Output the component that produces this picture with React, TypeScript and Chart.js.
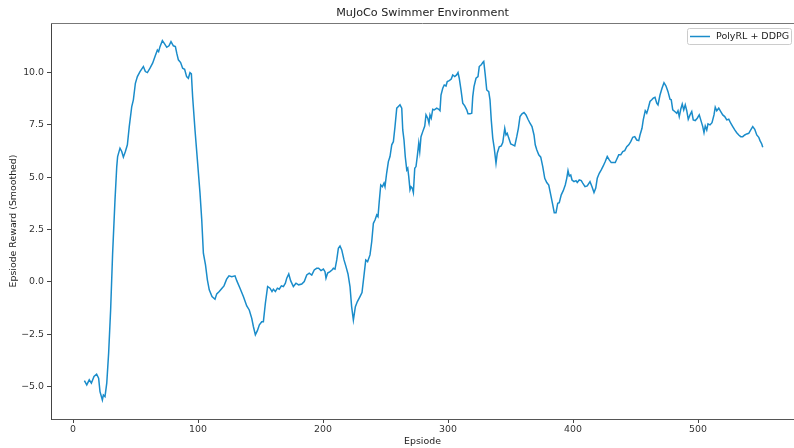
import React, { useEffect, useRef } from "react";
import { Chart, registerables } from "chart.js";

Chart.register(...registerables);

const TITLE = "MuJoCo Swimmer Environment";
const X_LABEL = "Epsiode";
const Y_LABEL = "Epsiode Reward (Smoothed)";
const SERIES_LABEL = "PolyRL + DDPG";
const LINE_COLOR = "#1a8cca";

const xTicks = [0, 100, 200, 300, 400, 500];
const yTicks = [-5.0, -2.5, 0.0, 2.5, 5.0, 7.5, 10.0];

const episodes = [
  9.1, 11, 13, 14.7, 16.8, 18.9, 20.5, 21.6, 23.5, 24.3, 25.6, 27, 28.5, 30.1, 31.7, 33.6, 35, 35.7, 37.6, 39,
  40.3, 41.9, 43.5, 45, 47, 48.3, 49.9, 51.5, 53.6, 56.3, 57.9, 59.5, 61.6, 63.7, 65.6, 67.5, 68.5, 69.6, 71.5, 73.3,
  75, 76.8, 78.4, 80.3, 81.9, 83, 84.3, 86.1, 87.7, 89.3, 90.9, 92.3, 93.6, 94.7, 95.7, 97.6, 99.5, 101.6, 103, 104.3,
  106, 107.5, 109, 111.2, 113.6, 115, 117, 119.2, 120.8, 122.9, 124.8, 127, 129.6, 131, 133.6, 136.3, 139, 141,
  143, 144.3, 145.9, 147.5, 149.1, 151, 152.3, 153.9, 155.7, 157.6, 159.2, 160.3, 161.9, 163.5, 165, 166.7, 168.3,
  169.9, 171, 172.6, 174.1, 176.3, 178.4, 180.5, 183, 185, 187, 189, 191, 193, 194.9, 196.5, 198.4, 200.3, 201.6,
  202.4, 203.7, 205.6, 207.2, 208.3, 209.6, 211, 212.3, 213.6, 215, 216.8, 218.4, 220, 221.6, 222.9, 224.3, 225.9,
  227.5, 229.6, 231.2, 233, 234.2, 235.7, 237.6, 239, 240.3, 241.6, 243, 244, 245, 246.2, 247.5, 248.8, 249.6,
  250.9, 252.3, 253.6, 255, 256.3, 257.6, 259,
  260.3, 261.6, 263, 263.8, 264.8, 265.8, 267, 267.8, 268.6, 269.6, 270.4, 271.4, 272.3, 273.4, 274.4, 275.4,
  276.6, 277.4, 278.4, 279.8, 281.4, 282.4, 283.8, 284.8, 285.6, 286.6, 287.8, 289, 291, 292.6, 293.6, 294.4,
  295.8, 297, 298.4, 299.4, 301, 302.6, 303.8, 305.4, 306.9, 308, 309, 310.4, 311.8, 313.4, 315, 316, 317.6, 319,
  319.8, 320.8, 322.4, 324, 325, 326.6, 327.8, 328.6, 329.8, 331, 332.6, 333.6, 334.6, 335.8, 337, 338.4, 339.4,
  341, 342.6, 343.8, 345.4, 346.4, 347.4, 348.6, 350.2, 351.8, 353.4, 355, 356.3, 357.6, 359.2, 360.8, 362.4, 364,
  365.6, 367.2, 368.8, 369.8, 371, 372.6, 374.2, 375.8, 377.4, 379, 380.6, 382.2, 383.8, 385, 386.4, 387.8, 389,
  390.6, 392.2, 393.8, 395, 396, 397, 398.2, 399.2, 400.8, 402.4, 403.4, 405, 406.6,
  407.8, 409.6, 411.4, 413.6, 415.2, 416.8, 418.2, 419.4, 421, 422.6, 424.2, 425.8, 427.4, 429, 430.6, 432.2,
  433.8, 435, 436.6, 438.2, 439.8, 441.4, 443, 444.6, 446.2, 447.8, 449.4, 451, 452.6, 453.6, 455.2, 456.2, 457.8,
  459, 460.2, 461.6, 463, 464.2, 465.6, 467, 468, 469.6, 471.2, 472.8, 474.4, 476, 477.6, 478.6, 479.8, 481.4, 483,
  484, 485, 486.2, 487.4, 488.6, 489.8, 491, 492.2, 493.6, 495, 496.2, 497.8, 499.4, 501, 502.2, 503.8, 504.8,
  505.8, 507, 508, 509.6, 511.2, 512.8, 513.8, 515, 516.6, 518.2, 519.8, 521.4, 523, 524.6, 526.2, 527.8, 529.4,
  531, 532.6, 534.2, 535.8, 537.4, 539, 540.6, 542.2, 543.8, 545.4, 547, 548.6, 549.6, 551, 551.8,
];

const rewards = [
  -4.72, -4.92, -4.68, -4.84, -4.52, -4.41, -4.6, -5.24, -5.64, -5.4, -5.48, -4.84, -3.41, -1.34, 1.37, 3.92, 5.51, 5.99, 6.39, 6.23,
  5.96, 6.23, 6.55, 7.42, 8.38, 8.7, 9.49, 9.81, 10.05, 10.29, 10.05, 10.0, 10.21, 10.45, 10.77, 11.08, 11.0, 11.24, 11.53, 11.37,
  11.21, 11.28, 11.48, 11.28, 11.24, 10.93, 10.61, 10.48, 10.21, 10.16, 9.81, 9.73, 10.0, 9.94, 8.85, 7.26, 5.83, 4.24, 2.96, 1.37,
  0.81, 0.1, -0.38, -0.7, -0.83, -0.57, -0.46, -0.3, -0.19, 0.13, 0.29, 0.25, 0.29, 0.06, -0.3, -0.7, -1.15, -1.34,
  -1.74, -2.13, -2.53, -2.33, -2.05, -1.9, -1.9, -1.02, -0.22, -0.3, -0.46, -0.35, -0.46, -0.3, -0.35, -0.19, -0.22,
  -0.06, 0.18, 0.38, 0.06, -0.22, -0.06, -0.14, -0.1, 0.02, 0.33, 0.42, 0.33, 0.57, 0.65, 0.65, 0.54, 0.61, 0.49,
  0.18, 0.42, 0.49, 0.57, 0.65, 0.61, 1.05, 1.61, 1.72, 1.53, 1.05, 0.73, 0.38, -0.22, -1.18, -1.82, -1.18,
  -0.94, -0.7, -0.51, 0.42, 1.05, 0.97, 1.29, 1.93, 2.8, 2.96, 3.2, 3.12, 3.84, 4.63, 4.55, 4.72, 4.55,
  5.19, 5.75, 5.99, 6.55, 6.7, 7.42, 8.3,
  8.38, 8.46, 8.3, 7.26, 6.78, 5.99, 5.35, 5.43, 5.03, 4.4, 4.55, 4.48, 4.27, 5.43, 5.51, 5.99,
  6.63, 6.23, 6.94, 7.18, 7.45, 7.98, 7.82, 7.58, 7.98, 7.82, 8.25, 8.22, 8.3, 8.25, 8.18, 8.93,
  9.25, 9.41, 9.36, 9.57, 9.62, 9.69, 9.89, 9.81, 9.89, 10.0, 9.73, 9.17, 8.54, 8.41, 8.22, 8.03, 8.03, 8.06,
  8.85, 9.33, 9.73, 9.81, 10.29, 10.37, 10.48, 10.53, 9.89, 9.17, 9.09, 8.7, 7.74, 6.87, 6.39, 5.67, 6.15,
  6.46, 6.5, 6.66, 7.34, 7.02, 7.1, 6.87, 6.59, 6.55, 6.5, 6.94, 7.34, 7.9, 8.03, 8.09, 7.98, 7.77,
  7.58, 7.42, 7.02, 6.55, 6.31, 6.07, 5.96, 5.51, 4.95, 4.75, 4.63, 4.16, 3.68, 3.31, 3.31, 3.76, 3.79,
  4.16, 4.36, 4.63, 4.95, 5.32, 5.06, 5.11, 4.87, 4.79, 4.84, 4.75, 4.87, 4.84,
  4.72, 4.55, 4.59, 4.79, 4.55, 4.27, 4.48, 4.95, 5.19, 5.35, 5.54, 5.75, 5.99, 5.83, 5.7, 5.7,
  5.7, 5.86, 6.07, 6.07, 6.23, 6.27, 6.46, 6.55, 6.7, 6.91, 6.94, 6.78, 6.75, 7.02, 7.34, 7.74, 8.18,
  8.06, 8.3, 8.62, 8.7, 8.78, 8.82, 8.54, 8.46, 8.93, 9.25, 9.52, 9.36, 9.09, 8.73, 8.7, 8.22, 8.14, 8.06,
  8.18, 7.9, 8.25, 8.5, 8.22, 8.46, 8.18, 7.77, 7.98, 8.14, 7.74, 7.71, 7.82, 7.98, 7.74, 7.42, 7.13,
  7.45, 7.26, 7.55, 7.5, 7.61, 7.98, 8.35, 8.18, 8.3, 8.14, 7.98, 7.9, 7.74, 7.77, 7.58, 7.42, 7.26,
  7.13, 7.02, 6.94, 6.94, 7.02, 7.07, 7.1, 7.26, 7.42, 7.29, 7.02, 6.91, 6.75, 6.59, 6.43,
];

const FONT = '"DejaVu Sans", sans-serif';
const SMALL = 9.4;

const fmtY = (v: number) => (v < 0 ? "\u2212" + Math.abs(v).toFixed(1) : v.toFixed(1));

const decorPlugin = {
  id: "decor",
  afterDraw(chart: any) {
    const { ctx, chartArea } = chart;
    const { left, top, right, bottom } = chartArea;
    ctx.save();
    // top spine
    ctx.strokeStyle = "#777";
    ctx.lineWidth = 1;
    ctx.beginPath();
    ctx.moveTo(left, top + 0.5);
    ctx.lineTo(right, top + 0.5);
    ctx.stroke();

    ctx.fillStyle = "#222";
    ctx.textAlign = "center";
    ctx.textBaseline = "middle";
    ctx.font = `11.2px ${FONT}`;
    ctx.fillText(TITLE, (left + right) / 2, 13);

    ctx.font = `${SMALL}px ${FONT}`;
    ctx.fillText(X_LABEL, (left + right) / 2, 442);

    ctx.save();
    ctx.translate(14, (top + bottom) / 2);
    ctx.rotate(-Math.PI / 2);
    ctx.fillText(Y_LABEL, 0, 0);
    ctx.restore();

    // legend
    const bx = 687.5, by = 28.5, bw = 104, bh = 16;
    ctx.fillStyle = "rgba(255,255,255,0.8)";
    ctx.strokeStyle = "#cccccc";
    ctx.lineWidth = 1;
    ctx.beginPath();
    if ((ctx as any).roundRect) (ctx as any).roundRect(bx, by, bw, bh, 2);
    else ctx.rect(bx, by, bw, bh);
    ctx.fill();
    ctx.stroke();
    ctx.strokeStyle = LINE_COLOR;
    ctx.lineWidth = 1.5;
    ctx.beginPath();
    ctx.moveTo(690, 36.5);
    ctx.lineTo(710, 36.5);
    ctx.stroke();
    ctx.fillStyle = "#222";
    ctx.textAlign = "left";
    ctx.font = `9.5px ${FONT}`;
    ctx.fillText(SERIES_LABEL, 716, 36.5);
    ctx.restore();
  },
};

export default function App() {
  const ref = useRef<HTMLCanvasElement | null>(null);

  useEffect(() => {
    if (!ref.current) return;
    const points = episodes.map((e, i) => ({ x: e, y: rewards[i] }));
    const chart = new Chart(ref.current, {
      type: "line",
      data: {
        datasets: [
          {
            label: SERIES_LABEL,
            data: points,
            borderColor: LINE_COLOR,
            backgroundColor: LINE_COLOR,
            borderWidth: 1.5,
            pointRadius: 0,
            tension: 0,
            fill: false,
          },
        ],
      },
      options: {
        animation: false,
        responsive: false,
        maintainAspectRatio: false,
        layout: { padding: { top: 23, left: 0, right: 0, bottom: 0 } },
        plugins: {
          legend: { display: false },
          title: { display: false },
          tooltip: { enabled: false },
        },
        scales: {
          x: {
            type: "linear",
            min: -17.6,
            max: 576.8,
            afterBuildTicks: (s: any) => {
              s.ticks = xTicks.map((v) => ({ value: v }));
            },
            afterFit: (s: any) => {
              s.height = 29;
            },
            grid: { display: true, drawOnChartArea: false, drawTicks: true, tickLength: 4, color: "#444" },
            border: { display: true, color: "#555", width: 1 },
            ticks: {
              color: "#333",
              font: { family: FONT, size: SMALL },
              padding: 1,
              maxRotation: 0,
              callback: (v: any) => String(v),
            },
          },
          y: {
            type: "linear",
            min: -6.55,
            max: 12.37,
            afterBuildTicks: (s: any) => {
              s.ticks = yTicks.map((v) => ({ value: v }));
            },
            afterFit: (s: any) => {
              s.width = 51;
            },
            grid: { display: true, drawOnChartArea: false, drawTicks: true, tickLength: 4, color: "#444" },
            border: { display: true, color: "#444", width: 1 },
            ticks: {
              color: "#333",
              font: { family: FONT, size: SMALL },
              padding: 3,
              callback: (v: any) => fmtY(Number(v)),
            },
          },
        },
      },
      plugins: [decorPlugin],
    });
    return () => chart.destroy();
  }, []);

  return (
    <div style={{ position: "fixed", left: 0, top: 0, width: 794, height: 448, background: "#fff" }}>
      <canvas ref={ref} width={794} height={448} style={{ display: "block" }} />
    </div>
  );
}
